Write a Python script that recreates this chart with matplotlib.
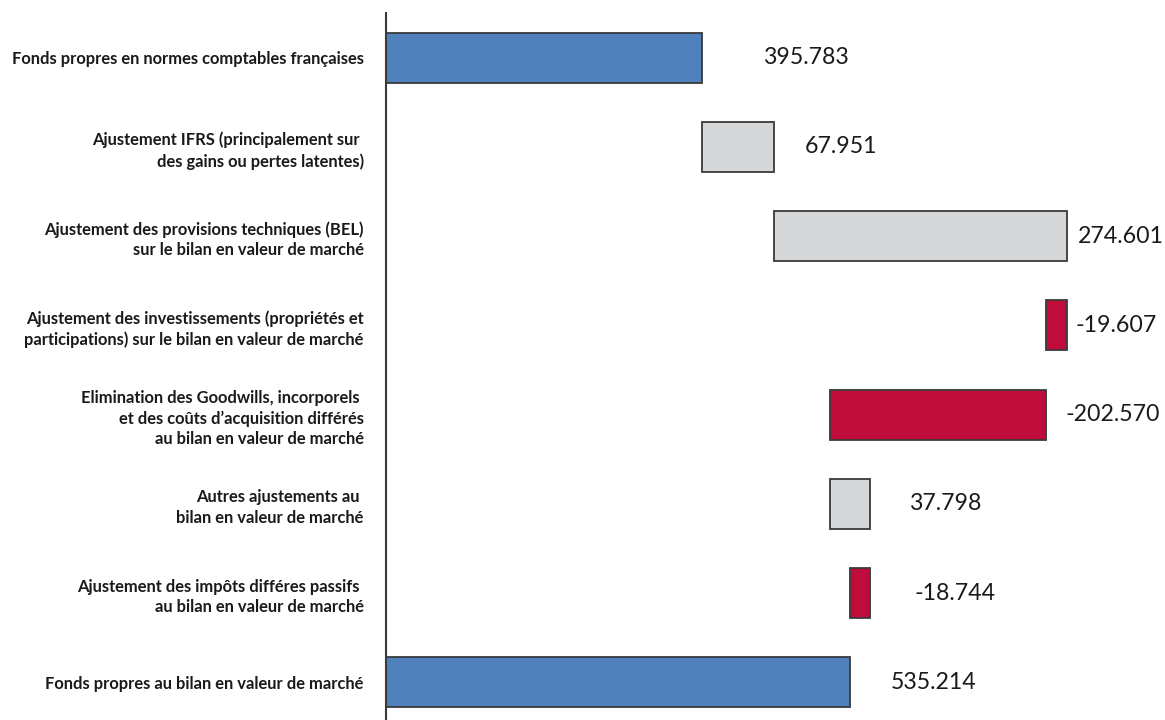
import numpy as np
import matplotlib.pyplot as plt

plt.rcParams['font.family'] = ['Lato', 'DejaVu Sans']

categories = ['Fonds propres en normes comptables françaises',
              'Ajustement IFRS (principalement sur \ndes gains ou pertes latentes)',
              'Ajustement des provisions techniques (BEL)\nsur le bilan en valeur de marché',
              'Ajustement des investissements (propriétés et\nparticipations) sur le bilan en valeur de marché',
              'Elimination des Goodwills, incorporels \net des coûts d\u2019acquisition différés\nau bilan en valeur de marché',
              'Autres ajustements au \nbilan en valeur de marché',
              'Ajustement des impôts différes passifs \nau bilan en valeur de marché',
              'Fonds propres au bilan en valeur de marché']
values = [395.783, 67.951, 274.601, -19.607, -202.570, 37.798, -18.744, 535.214]
is_total = [True, False, False, False, False, False, False, True]
value_labels = ['395.783', '67.951', '274.601', '-19.607', '-202.570', '37.798', '-18.744', '535.214']

# gap between bar end and its value label, in points
label_gap = [44, 22, 8, 6, 14, 28, 32, 29]

blue = '#4F81BD'
grey = '#D6D7D9'
red = '#C00C3A'

lefts = []
widths = []
colors = []
running = 0.0
for v, tot in zip(values, is_total):
    if tot:
        lefts.append(0.0)
        widths.append(v)
        colors.append(blue)
        running = v
    else:
        lefts.append(min(running, running + v))
        widths.append(abs(v))
        colors.append(grey if v > 0 else red)
        running += v

fig = plt.figure(figsize=(11.65, 7.2), dpi=100, facecolor='white')
ax = fig.add_axes([386 / 1165, -0.0097, 1 - 386 / 1165, 0.9917])
y = np.arange(len(categories))
ax.barh(y, widths, left=lefts, height=0.56, color=colors,
        edgecolor='#3A3A3A', linewidth=1.3)
ax.set_xlim(100, 830)
ax.set_ylim(len(categories) - 0.5, -0.5)

for i in range(len(categories)):
    end = lefts[i] + widths[i]
    ax.annotate(value_labels[i], (end, y[i]), xytext=(label_gap[i], 0),
                textcoords='offset points', va='center', ha='left',
                fontsize=16.7, color='#1a1a1a')

ax.set_yticks(y)
ax.set_yticklabels(categories, fontsize=11.9, fontweight='bold', color='#1a1a1a',
                   linespacing=1.34)
ax.tick_params(axis='y', length=0, pad=16)
ax.set_xticks([])
for s in ['top', 'right', 'bottom']:
    ax.spines[s].set_visible(False)
ax.spines['left'].set_color('#3A3A3A')
ax.spines['left'].set_linewidth(1.5)

plt.savefig('out.png', dpi=100)
